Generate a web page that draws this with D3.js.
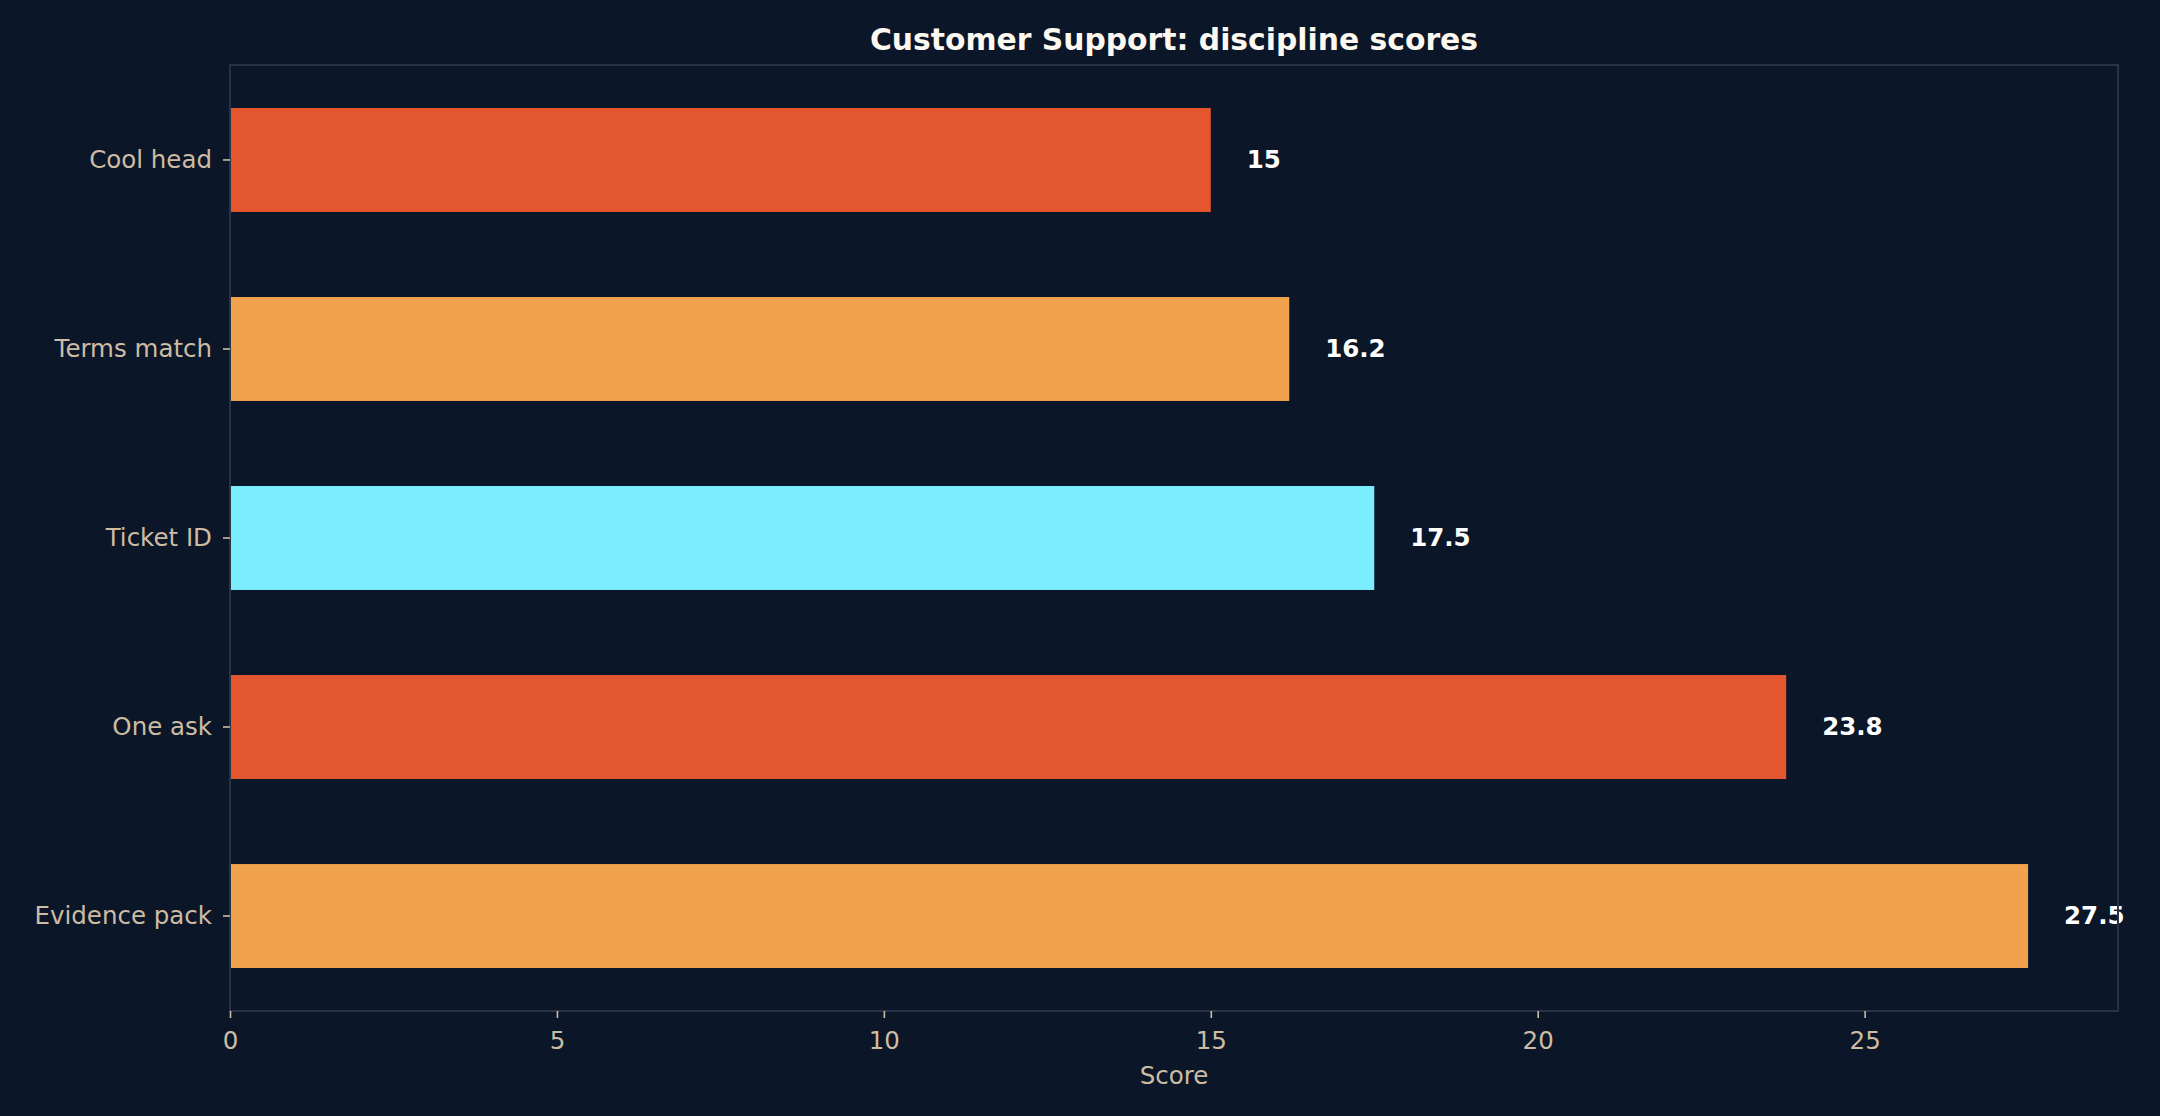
<!DOCTYPE html>
<html>
<head>
<meta charset="utf-8">
<script src="https://cdn.jsdelivr.net/npm/d3@7"></script>
<style>
    html, body { margin: 0; padding: 0; background: #0b1628; }
    svg { display: block; }
    .tick-label { fill: #cdbca4; font-family: "DejaVu Sans", sans-serif; font-size: 24.5px; }
    .value-label { fill: #ffffff; font-family: "DejaVu Sans", sans-serif; font-size: 24.5px; font-weight: bold; }
    .title { fill: #fdf8f0; font-family: "DejaVu Sans", sans-serif; font-size: 29.8px; font-weight: bold; }
    .axis-title { fill: #cdbca4; font-family: "DejaVu Sans", sans-serif; font-size: 24.5px; }
</style>
</head>
<body>
<svg id="chart"></svg>
<script>
(function () {
    "use strict";

    // Chart data, top bar first
    const categories = ["Cool head", "Terms match", "Ticket ID", "One ask", "Evidence pack"];
    const scores = [15, 16.2, 17.5, 23.8, 27.5];
    const barColors = ["#e4572e", "#f0a24d", "#7aeeff", "#e4572e", "#f0a24d"];
    const xTicks = [0, 5, 10, 15, 20, 25];

    const W = 2160;
    const H = 1116;
    const margin = { top: 65, right: 42, bottom: 105, left: 230 };
    const innerW = W - margin.left - margin.right;
    const innerH = H - margin.top - margin.bottom;

    const svg = d3.select("#chart")
        .attr("width", W)
        .attr("height", H);

    svg.append("rect")
        .attr("width", W).attr("height", H)
        .attr("fill", "#0b1628");

    const g = svg.append("g")
        .attr("transform", `translate(${margin.left},${margin.top})`);

    const maxScore = d3.max(scores);

    // matplotlib-like x limits: 0 .. max + 5%
    const x = d3.scaleLinear()
        .domain([0, maxScore * 1.05])
        .range([0, innerW]);

    const y = d3.scaleBand()
        .domain(categories)
        .range([0, innerH])
        .paddingInner(0.45)
        .paddingOuter(0.2275);

    const rows = categories.map((c, i) => ({ name: c, value: scores[i], color: barColors[i] }));

    // Bars
    g.selectAll(".bar")
        .data(rows)
        .enter()
        .append("rect")
        .attr("class", "bar")
        .attr("x", x(0))
        .attr("y", (d) => y(d.name))
        .attr("width", (d) => x(d.value) - x(0))
        .attr("height", y.bandwidth())
        .attr("fill", (d) => d.color);

    // Value labels just past bar ends
    g.selectAll(".value-label")
        .data(rows)
        .enter()
        .append("text")
        .attr("class", "value-label")
        .attr("x", (d) => x(d.value + maxScore * 0.02))
        .attr("y", (d) => y(d.name) + y.bandwidth() / 2)
        .attr("dy", "0.34em")
        .text((d) => d.value);

    // Frame (all four spines)
    g.append("rect")
        .attr("x", 0).attr("y", 0)
        .attr("width", innerW).attr("height", innerH)
        .attr("fill", "none")
        .attr("stroke", "#2a3246")
        .attr("stroke-width", 2);

    // X axis
    const xAxis = d3.axisBottom(x)
        .tickValues(xTicks)
        .tickSize(7)
        .tickPadding(14)
        .tickFormat(d3.format("d"));

    const xg = g.append("g")
        .attr("transform", `translate(0,${innerH})`)
        .call(xAxis);
    xg.select(".domain").remove();
    xg.selectAll(".tick line").attr("stroke", "#cdbca4").attr("stroke-width", 1.6);
    xg.selectAll(".tick text").attr("class", "tick-label").attr("fill", null).attr("font-size", null).attr("font-family", null);

    // Y axis
    const yAxis = d3.axisLeft(y)
        .tickSize(7)
        .tickPadding(11);

    const yg = g.append("g").call(yAxis);
    yg.select(".domain").remove();
    yg.selectAll(".tick line").attr("stroke", "#cdbca4").attr("stroke-width", 1.6);
    yg.selectAll(".tick text").attr("class", "tick-label").attr("fill", null).attr("font-size", null).attr("font-family", null);

    // Axis title
    g.append("text")
        .attr("class", "axis-title")
        .attr("x", innerW / 2)
        .attr("y", innerH + 73)
        .attr("text-anchor", "middle")
        .text("Score");

    // Chart title
    svg.append("text")
        .attr("class", "title")
        .attr("x", margin.left + innerW / 2)
        .attr("y", 50)
        .attr("text-anchor", "middle")
        .text("Customer Support: discipline scores");
})();
</script>
</body>
</html>
